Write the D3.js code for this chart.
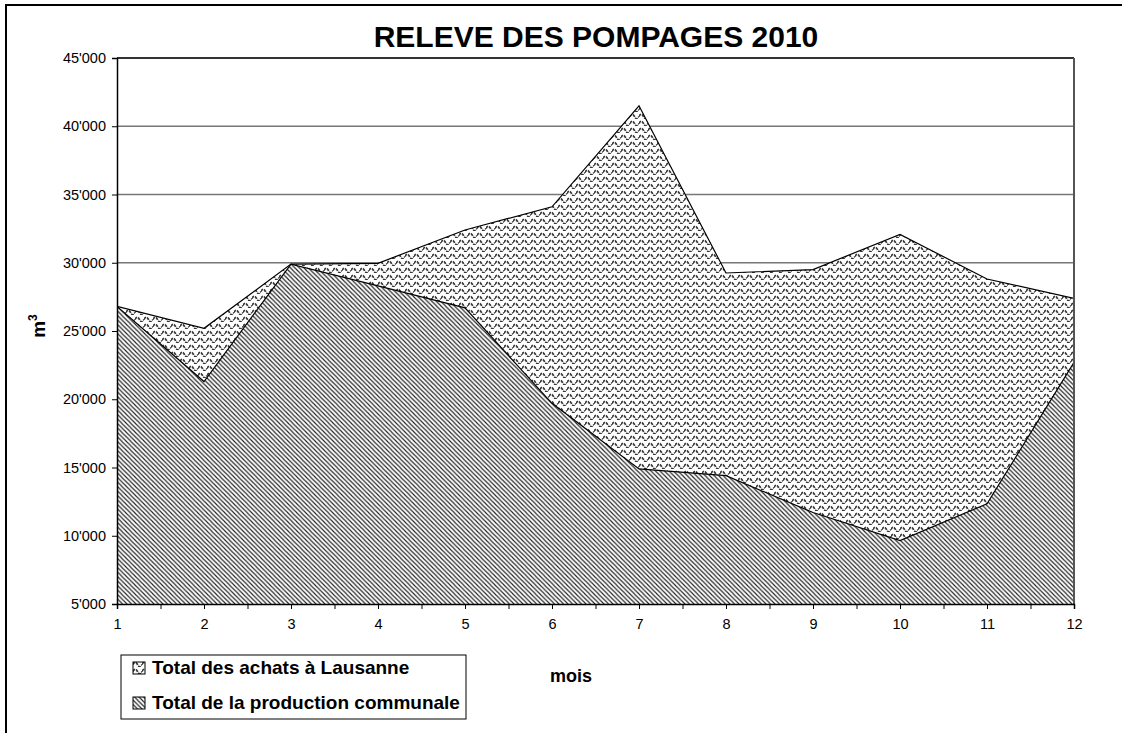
<!DOCTYPE html>
<html>
<head>
<meta charset="utf-8">
<script src="https://cdn.jsdelivr.net/npm/d3@7"></script>
<style>
  body { margin: 0; background: #fff; }
  svg { display: block; font-family: "Liberation Sans", Arial, sans-serif; }
</style>
</head>
<body>
<svg id="chart" width="1122" height="733"></svg>
<script>
// values (m3 per month)
const months = [1, 2, 3, 4, 5, 6, 7, 8, 9, 10, 11, 12]
const production = [26800, 21300, 29900, 28300, 26700, 19700, 14900, 14400, 11700, 9650, 12340, 22700]
const achats = [0, 3900, 0, 1660, 5700, 14400, 26600, 14850, 17800, 22430, 16470, 4690]
const yTicks = [5000, 10000, 15000, 20000, 25000, 30000, 35000, 40000, 45000]
const xTicks = d3.range(1, 12.01, 0.5)
const legendItems = [
  { key: "achats", label: "Total des achats à Lausanne" },
  { key: "production", label: "Total de la production communale" }
]

const plot = { left: 117, right: 1074, top: 58, bottom: 604 }

const svg = d3.select("#chart")

const x = d3.scaleLinear().domain([1, 12]).range([plot.left, plot.right])
const y = d3.scaleLinear().domain([5000, 45000]).range([plot.bottom, plot.top])

const fmt = d3.formatLocale({ decimal: ".", thousands: "'", grouping: [3], currency: ["", ""] }).format(",")

const rows = months.map((m, i) => ({ month: m, production: production[i], achats: achats[i] }))
const stack = d3.stack().keys(["production", "achats"])
const series = stack(rows)

// patterns
const defs = svg.append("defs")
const hatch = defs.append("pattern")
  .attr("id", "hatch")
  .attr("patternUnits", "userSpaceOnUse")
  .attr("width", 4.5).attr("height", 4.5)
hatch.append("rect").attr("width", 4.5).attr("height", 4.5).attr("fill", "#fff")
hatch.append("path")
  .attr("d", "M-1,-1L5.5,5.5M3.5,-1L5.5,1M-1,3.5L1,5.5")
  .attr("stroke", "#222").attr("stroke-width", 1.15)

const wave = defs.append("pattern")
  .attr("id", "wave")
  .attr("patternUnits", "userSpaceOnUse")
  .attr("width", 9).attr("height", 7)
wave.append("rect").attr("width", 9).attr("height", 7).attr("fill", "#fff")
wave.append("path")
  .attr("d", "M0,4.5Q2.25,0 4.5,4.5T9,4.5")
  .attr("fill", "none")
  .attr("stroke", "#333").attr("stroke-width", 1.7)
  .attr("stroke-dasharray", "3,1")

defs.append("clipPath").attr("id", "plotclip")
  .append("rect")
  .attr("x", plot.left).attr("y", plot.top)
  .attr("width", plot.right - plot.left).attr("height", plot.bottom - plot.top)

// outer frame
svg.append("rect")
  .attr("x", 6).attr("y", 5)
  .attr("width", 1300).attr("height", 900)
  .attr("fill", "none").attr("stroke", "#000").attr("stroke-width", 2)

// gridlines
svg.append("g")
  .selectAll("line")
  .data(yTicks.slice(1))
  .join("line")
  .attr("x1", plot.left).attr("x2", plot.right)
  .attr("y1", d => y(d)).attr("y2", d => y(d))
  .attr("stroke", "#777").attr("stroke-width", 1.5)

// areas
const area = d3.area()
  .x(d => x(d.data.month))
  .y0(d => y(d[0]))
  .y1(d => y(d[1]))

const fills = { production: "url(#hatch)", achats: "url(#wave)" }

const gArea = svg.append("g").attr("clip-path", "url(#plotclip)")
gArea.selectAll("path.area")
  .data(series)
  .join("path")
  .attr("class", "area")
  .attr("d", area)
  .attr("fill", d => fills[d.key])

gArea.selectAll("path.edge")
  .data(series)
  .join("path")
  .attr("class", "edge")
  .attr("d", d3.line().x(d => x(d.data.month)).y(d => y(d[1])))
  .attr("fill", "none")
  .attr("stroke", "#000").attr("stroke-width", 1.2)

// plot border (top + right)
svg.append("line")
  .attr("x1", plot.left).attr("x2", plot.right)
  .attr("y1", plot.top).attr("y2", plot.top)
  .attr("stroke", "#333").attr("stroke-width", 2)
svg.append("line")
  .attr("x1", plot.right).attr("x2", plot.right)
  .attr("y1", plot.top).attr("y2", plot.bottom)
  .attr("stroke", "#555").attr("stroke-width", 2)

// axes
svg.append("g")
  .attr("transform", `translate(${plot.left},0)`)
  .call(d3.axisLeft(y).tickValues(yTicks).tickFormat(fmt).tickSize(5).tickPadding(6))
svg.append("g")
  .attr("transform", `translate(0,${plot.bottom})`)
  .call(d3.axisBottom(x).tickValues(xTicks)
    .tickFormat(d => Number.isInteger(d) ? d : "").tickSize(5).tickPadding(10))

svg.selectAll(".domain").attr("stroke", "#000").attr("stroke-width", 1.5)
svg.selectAll(".tick line").attr("stroke", "#000").attr("stroke-width", 1)
svg.selectAll(".tick text")
  .attr("font-family", "Liberation Sans, Arial, sans-serif")
  .attr("font-size", 14.5).attr("fill", "#000")

// title
svg.append("text")
  .attr("x", 596).attr("y", 47)
  .attr("text-anchor", "middle")
  .attr("font-size", 30).attr("font-weight", "bold")
  .text("RELEVE DES POMPAGES 2010")

// axis titles
const yTitle = svg.append("text")
  .attr("transform", "translate(45,326) rotate(-90)")
  .attr("text-anchor", "middle")
  .attr("font-size", 19).attr("font-weight", "bold")
yTitle.append("tspan").text("m")
yTitle.append("tspan").attr("dy", -8).attr("font-size", 12).text("3")

svg.append("text")
  .attr("x", 571).attr("y", 682)
  .attr("text-anchor", "middle")
  .attr("font-size", 18).attr("font-weight", "bold")
  .text("mois")

// legend
const legend = svg.append("g").attr("transform", "translate(121,655)")
legend.append("rect")
  .attr("width", 345).attr("height", 64)
  .attr("fill", "#fff").attr("stroke", "#000").attr("stroke-width", 1)
const item = legend.selectAll("g.item")
  .data(legendItems)
  .join("g")
  .attr("class", "item")
  .attr("transform", (d, i) => `translate(12,${19 + i * 35})`)
item.append("rect")
  .attr("x", 0).attr("y", -12)
  .attr("width", 12).attr("height", 12)
  .attr("fill", d => fills[d.key])
  .attr("stroke", "#000").attr("stroke-width", 1)
item.append("text")
  .attr("x", 19).attr("y", 0)
  .attr("font-size", 19).attr("font-weight", "bold")
  .text(d => d.label)
</script>
</body>
</html>
